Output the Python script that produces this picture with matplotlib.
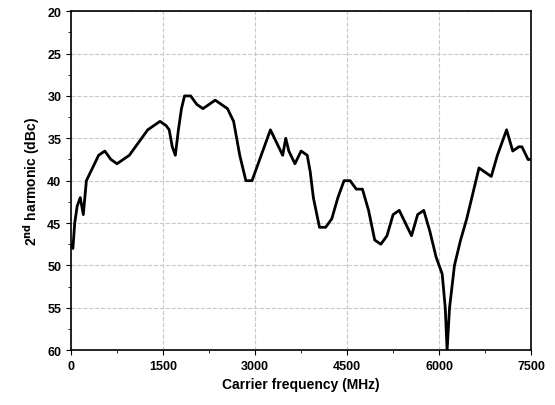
import matplotlib
matplotlib.use("Agg")
import matplotlib.pyplot as plt
from matplotlib.ticker import MultipleLocator

plt.rcParams['font.family'] = ['Liberation Sans', 'DejaVu Sans']
plt.rcParams['font.weight'] = 'bold'

freq = [0, 30, 60, 100, 150, 200, 250, 350, 450, 550, 650, 750, 850, 950, 1050, 1150,
        1250, 1350, 1450, 1550, 1600, 1650, 1700, 1750, 1800, 1850, 1950, 2050, 2150,
        2250, 2350, 2450, 2550, 2650, 2750, 2850, 2950, 3050, 3150, 3250, 3350, 3450,
        3500, 3550, 3650, 3750, 3850, 3900, 3950, 4050, 4150, 4250, 4350, 4450, 4550,
        4650, 4750, 4850, 4950, 5050, 5150, 5250, 5350, 5450, 5550, 5650, 5750, 5850,
        5950, 6050, 6100, 6130, 6170, 6250, 6350, 6450, 6550, 6650, 6750, 6850, 6950,
        7050, 7100, 7200, 7300, 7350, 7450, 7500]
harm = [47.5, 48, 45, 43, 42, 44, 40, 38.5, 37, 36.5, 37.5, 38, 37.5, 37, 36, 35,
        34, 33.5, 33, 33.5, 34, 36, 37, 34, 31.5, 30, 30, 31, 31.5,
        31, 30.5, 31, 31.5, 33, 37, 40, 40, 38, 36, 34, 35.5, 37,
        35, 36.5, 38, 36.5, 37, 39, 42, 45.5, 45.5, 44.5, 42, 40, 40,
        41, 41, 43.5, 47, 47.5, 46.5, 44, 43.5, 45, 46.5, 44, 43.5, 46,
        49, 51, 55, 60, 55, 50, 47, 44.5, 41.5, 38.5, 39, 39.5, 37,
        35, 34, 36.5, 36, 36, 37.5, 37.5]

fig = plt.figure(figsize=(5.55, 4.06), dpi=100)
ax = fig.add_axes([0.128, 0.135, 0.829, 0.835])
ax.plot(freq, harm, color='black', linewidth=2)
ax.set_xlim(0, 7500)
ax.set_ylim(60, 20)
ax.xaxis.set_major_locator(MultipleLocator(1500))
ax.xaxis.set_minor_locator(MultipleLocator(750))
ax.yaxis.set_major_locator(MultipleLocator(5))
ax.yaxis.set_minor_locator(MultipleLocator(2.5))
ax.tick_params(which='both', direction='out', labelsize=9)
ax.grid(True, linestyle='--', color='#c8c8c8', linewidth=0.8)
ax.set_xlabel("Carrier frequency (MHz)", fontsize=10, fontweight='bold')
ax.set_ylabel("2$^{\\mathbf{nd}}$ harmonic (dBc)", fontsize=10, fontweight='bold')
for s in ax.spines.values():
    s.set_linewidth(1.2)
plt.savefig("out.png", dpi=100)
